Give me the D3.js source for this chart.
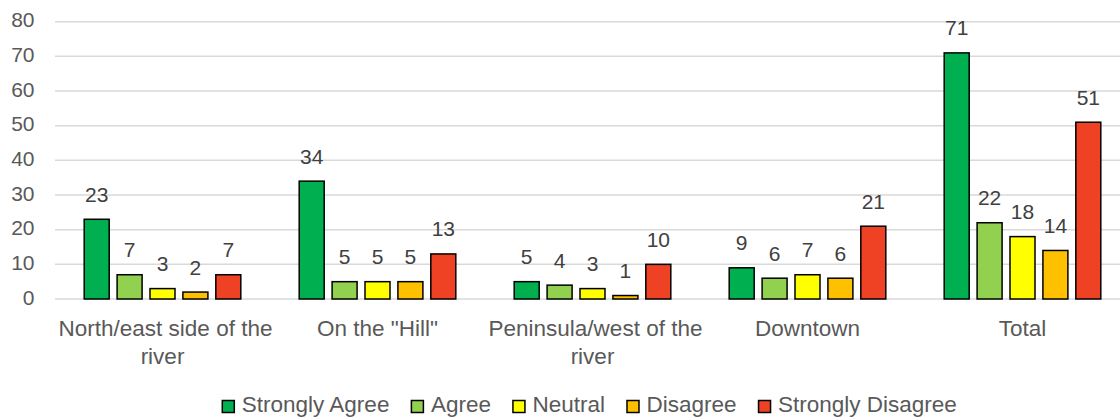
<!DOCTYPE html>
<html><head><meta charset="utf-8">
<script src="https://cdn.jsdelivr.net/npm/d3@7"></script>
<style>
html,body{margin:0;padding:0;background:#fff;overflow:hidden}
text{font-family:"Liberation Sans",Arial,sans-serif}
</style></head>
<body>
<svg id="chart" width="1120" height="417"></svg>
<script>
const categories = [["North/east side of the","river"],["On the \"Hill\""],["Peninsula/west of the","river"],["Downtown"],["Total"]];
const series = ["Strongly Agree","Agree","Neutral","Disagree","Strongly Disagree"];
const colors = ["#00B050","#92D050","#FFFF00","#FFC000","#EF4123"];
const stronglyAgree = [23,34,5,9,71];
const agree = [7,5,4,6,22];
const neutral = [3,5,3,7,18];
const disagree = [2,5,1,6,14];
const stronglyDisagree = [7,13,10,21,51];
const yTicks = [0,10,20,30,40,50,60,70,80];

const values = [stronglyAgree, agree, neutral, disagree, stronglyDisagree];
const svg = d3.select("#chart");
const catKeys = categories.map((c,i)=>i);

const x0 = d3.scaleBand().domain(catKeys).range([55,1130]).padding(0);
const x1 = d3.scaleBand().domain(series).range([28.45, x0.bandwidth()-28.45]).paddingInner(0.195).paddingOuter(0);
const y = d3.scaleLinear().domain([0,80]).range([299,21.7]);

// gridlines
svg.append("g").selectAll("line").data(yTicks).join("line")
  .attr("x1",55).attr("x2",1130)
  .attr("y1",d=>y(d)).attr("y2",d=>y(d))
  .attr("stroke","#D9D9D9").attr("stroke-width",1.5);

// y tick labels
svg.append("g").selectAll("text").data(yTicks).join("text")
  .attr("x",34.5).attr("y",d=>y(d)+5.5)
  .attr("text-anchor","end").attr("font-size",21).attr("fill","#595959")
  .text(d=>d);

// bars
const groups = svg.append("g").selectAll("g").data(catKeys).join("g")
  .attr("transform",d=>`translate(${x0(d)},0)`);
groups.selectAll("rect").data(ci=>series.map((s,si)=>({s,si,v:values[si][ci]}))).join("rect")
  .attr("x",d=>x1(d.s)+0.75).attr("width",x1.bandwidth()-1.5)
  .attr("y",d=>y(d.v)).attr("height",d=>y(0)-y(d.v))
  .attr("fill",d=>colors[d.si]).attr("stroke","#000").attr("stroke-width",1.5);
groups.selectAll("text").data(ci=>series.map((s,si)=>({s,si,v:values[si][ci]}))).join("text")
  .attr("x",d=>x1(d.s)+x1.bandwidth()/2).attr("y",d=>y(d.v)-17.5)
  .attr("text-anchor","middle").attr("font-size",21).attr("fill","#404040")
  .text(d=>d.v);

// category labels
const cl = svg.append("g").selectAll("text").data(catKeys).join("text")
  .attr("text-anchor","middle").attr("font-size",22.5).attr("fill","#595959");
cl.each(function(ci){
  const t = d3.select(this);
  categories[ci].forEach((line,li)=>{
    t.append("tspan").attr("x",x0(ci)+x0.bandwidth()/2+(li===0&&categories[ci].length>1?3:0)).attr("y",335.5+li*28).text(line);
  });
});

// legend
const lg = svg.append("g");
const items = [];
series.forEach((s,i)=>{
  const g = lg.append("g");
  g.append("rect").attr("x",0).attr("y",400.5).attr("width",12).attr("height",12)
    .attr("fill",colors[i]).attr("stroke","#000").attr("stroke-width",1.5);
  const t = g.append("text").attr("x",19.5).attr("y",411.5).attr("font-size",22.5).attr("fill","#595959").text(s);
  const w = 19.5 + t.node().getComputedTextLength();
  items.push({g,w});
});
const gap = 22;
let cx = 222.3;
items.forEach(it=>{ it.g.attr("transform",`translate(${cx},0)`); cx += it.w + gap; });
</script>
</body></html>
